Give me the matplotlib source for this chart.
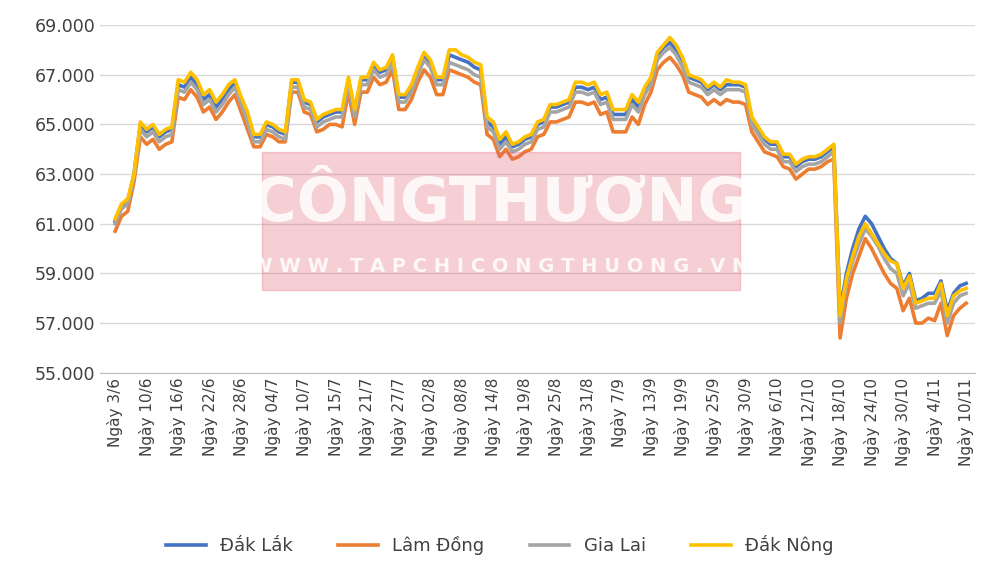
import numpy as np
import matplotlib.pyplot as plt
from matplotlib.patches import Rectangle
from matplotlib.ticker import FuncFormatter

# Giá cà phê nhân xô (nghìn đồng/kg), 5 phiên giữa mỗi nhãn
tick_labels = ['3/6', '10/6', '16/6', '22/6', '28/6', '04/7', '10/7', '15/7', '21/7',
               '27/7', '02/8', '08/8', '14/8', '19/8', '25/8', '31/8', '7/9', '13/9',
               '19/9', '25/9', '30/9', '6/10', '12/10', '18/10', '24/10', '30/10',
               '4/11', '10/11']

dak_lak = [61.1,61.7,61.9,63.0,65.0, 64.7,64.9,64.5,64.7,64.8, 66.6,66.5,66.9,66.6,66.0,
           66.2,65.7,66.0,66.4,66.7, 66.0,65.3,64.5,64.5,65.0, 64.9,64.7,64.6,66.7,66.7,
           65.9,65.8,65.1,65.3,65.4, 65.5,65.5,66.8,65.5,66.8, 66.8,67.4,67.1,67.2,67.7,
           66.1,66.1,66.5,67.2,67.8, 67.5,66.8,66.8,67.8,67.7, 67.6,67.5,67.3,67.2,65.1,
           64.9,64.2,64.5,64.1,64.2, 64.4,64.5,65.0,65.1,65.7, 65.7,65.8,65.9,66.5,66.5,
           66.4,66.5,66.0,66.1,65.4, 65.4,65.4,66.0,65.7,66.4, 66.8,67.8,68.1,68.3,68.0,
           67.5,66.9,66.8,66.7,66.4, 66.6,66.4,66.6,66.6,66.6, 66.5,65.2,64.8,64.4,64.2,
           64.2,63.7,63.7,63.3,63.5, 63.6,63.6,63.7,63.9,64.1, 57.5,59.0,60.0,60.8,61.3,
           61.0,60.5,60.0,59.6,59.4, 58.5,59.0,57.9,58.0,58.2, 58.2,58.7,57.5,58.2,58.5,
           58.6]
lam_dong = [60.7,61.3,61.5,62.7,64.5, 64.2,64.4,64.0,64.2,64.3, 66.1,66.0,66.4,66.1,65.5,
            65.7,65.2,65.5,65.9,66.2, 65.5,64.8,64.1,64.1,64.6, 64.5,64.3,64.3,66.3,66.3,
            65.5,65.4,64.7,64.8,65.0, 65.0,64.9,66.3,65.0,66.3, 66.3,66.9,66.6,66.7,67.2,
            65.6,65.6,66.0,66.7,67.2, 66.9,66.2,66.2,67.2,67.1, 67.0,66.9,66.7,66.6,64.6,
            64.4,63.7,64.0,63.6,63.7, 63.9,64.0,64.5,64.6,65.1, 65.1,65.2,65.3,65.9,65.9,
            65.8,65.9,65.4,65.5,64.7, 64.7,64.7,65.3,65.0,65.8, 66.3,67.2,67.5,67.7,67.4,
            67.0,66.3,66.2,66.1,65.8, 66.0,65.8,66.0,65.9,65.9, 65.8,64.7,64.3,63.9,63.8,
            63.7,63.3,63.2,62.8,63.0, 63.2,63.2,63.3,63.5,63.6, 56.4,58.0,59.0,59.7,60.4,
            60.0,59.5,59.0,58.6,58.4, 57.5,58.0,57.0,57.0,57.2, 57.1,57.8,56.5,57.3,57.6,
            57.8]
gia_lai = [61.0,61.6,61.8,62.9,64.8, 64.5,64.7,64.3,64.5,64.6, 66.4,66.3,66.7,66.4,65.8,
           66.0,65.5,65.8,66.2,66.5, 65.8,65.1,64.3,64.3,64.8, 64.7,64.5,64.4,66.5,66.5,
           65.7,65.6,64.9,65.1,65.2, 65.3,65.3,66.6,65.3,66.6, 66.6,67.2,66.9,67.0,67.5,
           65.9,65.9,66.3,67.0,67.6, 67.3,66.6,66.6,67.5,67.4, 67.3,67.2,67.0,66.9,64.9,
           64.7,64.0,64.3,63.9,64.0, 64.2,64.3,64.8,64.9,65.5, 65.5,65.6,65.7,66.3,66.3,
           66.2,66.3,65.8,65.9,65.2, 65.2,65.2,65.8,65.5,66.2, 66.6,67.6,67.9,68.1,67.8,
           67.3,66.7,66.6,66.5,66.2, 66.4,66.2,66.4,66.4,66.4, 66.3,65.0,64.6,64.2,64.0,
           64.0,63.5,63.5,63.1,63.3, 63.4,63.4,63.5,63.7,63.9, 57.0,58.6,59.5,60.2,60.8,
           60.5,60.1,59.6,59.2,59.0, 58.1,58.6,57.6,57.7,57.8, 57.8,58.3,57.0,57.8,58.1,
           58.2]
dak_nong = [61.2,61.8,62.0,63.0,65.1, 64.8,65.0,64.6,64.8,64.9, 66.8,66.7,67.1,66.8,66.2,
            66.4,65.9,66.2,66.6,66.8, 66.1,65.5,64.6,64.6,65.1, 65.0,64.8,64.7,66.8,66.8,
            66.0,65.9,65.2,65.4,65.5, 65.6,65.6,66.9,65.6,66.9, 66.9,67.5,67.2,67.3,67.8,
            66.2,66.2,66.6,67.3,67.9, 67.6,66.9,66.9,68.0,68.0, 67.8,67.7,67.5,67.4,65.3,
            65.1,64.4,64.7,64.2,64.3, 64.5,64.6,65.1,65.2,65.8, 65.8,65.9,66.0,66.7,66.7,
            66.6,66.7,66.2,66.3,65.6, 65.6,65.6,66.2,65.9,66.5, 66.9,67.9,68.2,68.5,68.2,
            67.7,67.0,66.9,66.8,66.5, 66.7,66.5,66.8,66.7,66.7, 66.6,65.3,64.9,64.5,64.3,
            64.3,63.8,63.8,63.4,63.6, 63.7,63.7,63.8,64.0,64.2, 57.3,58.8,59.7,60.5,61.0,
            60.6,60.2,59.8,59.5,59.4, 58.4,58.9,57.8,57.9,58.0, 58.0,58.6,57.3,58.1,58.3,
            58.4]

series = [('Đắk Lắk', dak_lak, '#4472C4'), ('Lâm Đồng', lam_dong, '#ED7D31'),
          ('Gia Lai', gia_lai, '#A5A5A5'), ('Đắk Nông', dak_nong, '#FFC000')]

fig = plt.figure(figsize=(10, 5.7), dpi=100)
ax = fig.add_axes([0.1, 0.346, 0.875, 0.61])
x = np.arange(len(dak_nong))
for name, vals, col in series:
    ax.plot(x, np.array(vals) * 1000, color=col, lw=2.6, label=name)

ax.set_ylim(55000, 69000)
ax.set_yticks(np.arange(55000, 69001, 2000))
ax.yaxis.set_major_formatter(FuncFormatter(lambda v, p: f'{v:,.0f}'.replace(',', '.')))
ax.set_xlim(-2.4, 136.4)
ax.set_xticks(np.arange(0, len(dak_nong), 5))
ax.set_xticklabels(['Ngày ' + t for t in tick_labels], rotation=90, fontsize=11, color='#404040')
ax.tick_params(axis='y', labelsize=12.5, colors='#404040', length=0)
ax.tick_params(axis='x', length=0)
ax.grid(axis='y', color='#d9d9d9', lw=1)
ax.set_axisbelow(True)
for s in ['top', 'right', 'left']:
    ax.spines[s].set_visible(False)
ax.spines['bottom'].set_color('#bfbfbf')

# watermark
fig.patches.append(Rectangle((0.262, 1 - 290/570), 0.478, 138/570, transform=fig.transFigure,
                             color='#e06070', alpha=0.3, zorder=5))
fig.text(0.5, 1 - 205/570, 'CÔNGTHƯƠNG', ha='center', va='center', fontsize=44,
         fontweight='bold', color='white', alpha=0.85, zorder=6)
fig.text(0.5, 1 - 266/570, 'W W W . T A P C H I C O N G T H U O N G . V N', ha='center',
         va='center', fontsize=14, fontweight='bold', color='white', alpha=0.85, zorder=6)

fig.legend(loc='center', bbox_to_anchor=(0.5, 1 - 545/570), ncol=4, frameon=False,
           fontsize=13, handlelength=2.2, columnspacing=2.5, labelcolor='#404040')
fig.savefig('out.png', dpi=100)
